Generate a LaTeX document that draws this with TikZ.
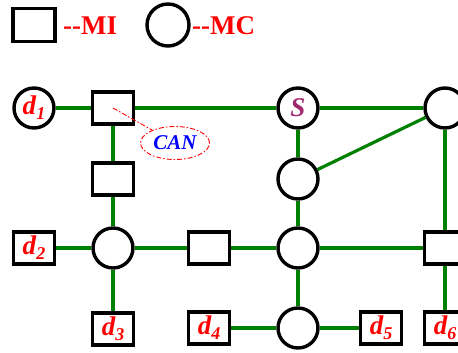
\documentclass[tikz,border=0pt]{standalone}
\usepackage{fontspec}
\setmainfont{Liberation Serif}
\usetikzlibrary{shapes.geometric}
\definecolor{lg}{RGB}{0,128,0}
\definecolor{sred}{RGB}{255,0,0}
\definecolor{spurp}{RGB}{160,40,110}
\definecolor{cblue}{RGB}{0,0,255}
\tikzset{
  mi/.style={draw=black, line width=3.4pt, minimum width=41pt, minimum height=32pt, inner sep=0pt, fill=white},
  mc/.style={draw=black, line width=3.4pt, circle, minimum size=40pt, inner sep=0pt, fill=white},
  lab/.style={text=sred, font=\bfseries\itshape\fontsize{27}{27}\selectfont},
  link/.style={draw=lg, line width=3.2pt},
  legtxt/.style={text=sred, font=\bfseries\fontsize{27}{27}\selectfont, anchor=west, inner sep=0pt}
}
\newcommand{\dsub}[1]{d\raisebox{-5pt}{\fontsize{18}{18}\selectfont #1}}
\begin{document}
\begin{tikzpicture}[x=1pt,y=-1pt]
\useasboundingbox (0,0) rectangle (458,353);
\clip (0,0) rectangle (458,353);
\fill[white] (0,0) rectangle (458,353);
% legend
\node[mi, minimum width=42pt, minimum height=33pt] (legsq) at (34,25) {};
\node[legtxt] (legmi) at (63,26) {-{}-MI};
\node[mc, minimum size=42pt] (legc) at (168,25) {};
\node[legtxt] (legmc) at (192,26) {-{}-MC};
% nodes
\node[mc, lab] (d1) at (34,108) {\dsub{1}};
\node[mi] (s1) at (113,108) {};
\node[mc, text=spurp, font=\bfseries\itshape\fontsize{27}{27}\selectfont] (S) at (298,108) {S};
\node[mc] (tr) at (445,108) {};
\node[mi] (s2) at (113,179) {};
\node[mc] (c2) at (298,179) {};
\node[mi, lab] (d2) at (34,248) {\dsub{2}};
\node[mc] (c1) at (113,248) {};
\node[mi] (sm) at (209,248) {};
\node[mc] (cm) at (298,248) {};
\node[mi] (sr) at (445,248) {};
\node[mi, lab] (d3) at (113,329) {\dsub{3}};
\node[mi, lab] (d4) at (209,328) {\dsub{4}};
\node[mc] (cb) at (298,328) {};
\node[mi, lab] (d5) at (381,328) {\dsub{5}};
\node[mi, lab] (d6) at (445,328) {\dsub{6}};
% CAN
\node[draw=sred, dash pattern=on 5pt off 2pt on 1.5pt off 2pt, line width=0.9pt, ellipse, minimum width=69pt, minimum height=33pt, inner sep=0pt, text=cblue, font=\bfseries\itshape\fontsize{21}{21}\selectfont] (can) at (175,143) {CAN};
% links
\draw[link] (d1) -- (s1);
\draw[link] (s1) -- (S);
\draw[link] (S) -- (tr);
\draw[link] (s1) -- (s2);
\draw[link] (s2) -- (c1);
\draw[link] (d2) -- (c1);
\draw[link] (c1) -- (sm);
\draw[link] (sm) -- (cm);
\draw[link] (cm) -- (sr);
\draw[link] (c1) -- (d3);
\draw[link] (S) -- (c2);
\draw[link] (c2) -- (tr);
\draw[link] (c2) -- (cm);
\draw[link] (cm) -- (cb);
\draw[link] (d4) -- (cb);
\draw[link] (cb) -- (d5);
\draw[link] (tr) -- (sr);
\draw[link] (sr) -- (d6);
\draw[draw=sred, dash pattern=on 5pt off 2pt on 1.5pt off 2pt, line width=0.9pt] (s1.center) -- (can);
\end{tikzpicture}
\end{document}
